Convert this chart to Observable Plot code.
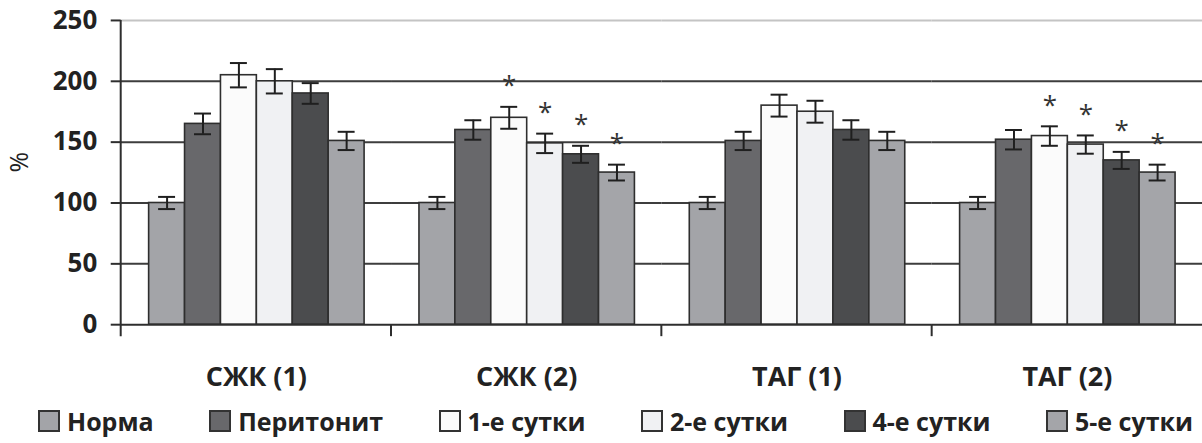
<!DOCTYPE html>
<html><head><meta charset="utf-8">
<script src="https://cdn.jsdelivr.net/npm/d3@7"></script>
<script src="https://cdn.jsdelivr.net/npm/@observablehq/plot@0.6"></script>
<style>
html,body{margin:0;padding:0;background:#fff;overflow:hidden;width:1202px;height:443px}
#chart svg{display:block}
.legend{display:flex;justify-content:space-between;align-items:center;box-sizing:border-box;width:1202px;height:48px;padding:6px 9px 0 38px;font-family:"Open Sans";font-weight:700;font-size:25px;color:#222}
.item{display:flex;align-items:center;gap:7px}
.sw{width:18px;height:18px;border:2px solid #333;box-sizing:content-box}
</style></head><body>
<div id="chart"></div><div class="legend" id="legend"></div>
<script>
const groups = ["СЖК (1)", "СЖК (2)", "ТАГ (1)", "ТАГ (2)"];
const series = ["Норма", "Перитонит", "1-е сутки", "2-е сутки", "4-е сутки", "5-е сутки"];
const colors = ["#a3a4a8", "#68686b", "#fbfbfb", "#f0f1f3", "#4b4c4e", "#a4a5a9"];
const sjk1 = [100, 165, 205, 200, 190, 151];
const sjk2 = [100, 160, 170, 149, 140, 125];
const tag1 = [100, 151, 180, 175, 160, 151];
const tag2 = [100, 152, 155, 148, 135, 125];
const errSjk1 = [5, 8.5, 10, 10, 8.5, 7.5];
const errSjk2 = [5, 8, 9, 8, 7, 6.5];
const errTag1 = [5, 7.5, 9, 9, 8, 7.5];
const errTag2 = [5, 8, 8, 7.5, 7, 6.5];
const starGroups = ["СЖК (2)", "ТАГ (2)"];
const starSeries = ["1-е сутки", "2-е сутки", "4-е сутки", "5-е сутки"];
const yTicks = [0, 50, 100, 150, 200, 250];
const yLabel = "%";

const valueLists = [sjk1, sjk2, tag1, tag2];
const errLists = [errSjk1, errSjk2, errTag1, errTag2];
const rows = groups.flatMap((g, gi) => series.map((s, si) => ({
  group: g, series: s, value: valueLists[gi][si], err: errLists[gi][si]
})));
const starred = rows.filter(d => starGroups.includes(d.group) && starSeries.includes(d.series));

const dark = "#2e2e2e";
let facetCall = 0;
function edgeTicks(index, scales, values, dimensions) {
  const first = (facetCall++ % groups.length) === 0;
  const r = scales.x.range();
  const left = Math.min(r[0], r[1]);
  const y0 = scales.y(0);
  const g = d3.create("svg:g");
  g.append("line").attr("x1", left).attr("x2", left)
    .attr("y1", first ? scales.y(250) : y0).attr("y2", y0 + 12)
    .attr("stroke", dark).attr("stroke-width", 2);
  return g.node();
}

const chart = Plot.plot({
  width: 1205,
  height: 395,
  marginLeft: 120,
  marginRight: 0,
  marginTop: 20,
  marginBottom: 70,
  style: {fontFamily: "Open Sans", color: "#222", background: "transparent"},
  fx: {domain: groups, padding: 0},
  x: {domain: series, paddingInner: 0, paddingOuter: 0.745, axis: null},
  y: {domain: [0, 250]},
  color: {domain: series, range: colors},
  marks: [
    Plot.ruleY(yTicks.filter(t => t > 0 && t < 250), {stroke: "#3d3d3d", strokeWidth: 2}),
    Plot.ruleY([250], {stroke: "#c4c4c4", strokeWidth: 2}),
    Plot.barY(rows, {fx: "group", x: "series", y: "value", fill: "series", stroke: dark, strokeWidth: 1.6}),
    Plot.ruleX(rows, {fx: "group", x: "series", y1: d => d.value - d.err, y2: d => d.value + d.err, stroke: "#1f1f1f", strokeWidth: 2}),
    Plot.tickY(rows, {fx: "group", x: "series", y: d => d.value + d.err, insetLeft: 9.5, insetRight: 9.5, stroke: "#1f1f1f", strokeWidth: 2}),
    Plot.tickY(rows, {fx: "group", x: "series", y: d => d.value - d.err, insetLeft: 9.5, insetRight: 9.5, stroke: "#1f1f1f", strokeWidth: 2}),
    Plot.text(starred, {fx: "group", x: "series", y: d => d.value + d.err, text: d => "*", dy: -21, fontSize: 26, fill: "#333"}),
    Plot.ruleY([0], {stroke: dark, strokeWidth: 2}),
    edgeTicks,
    Plot.axisY({ticks: yTicks, tickSize: 10, tickPadding: 14, fontSize: 26, fontWeight: "bold", label: null, stroke: dark, strokeWidth: 2}),
    Plot.text([yLabel], {fx: () => groups[0], text: d => d, frameAnchor: "left", dx: -101, rotate: -90, fontSize: 25, fill: "#222"}),
    Plot.axisFx({anchor: "bottom", tickSize: 0, tickPadding: 42, fontSize: 27, fontWeight: "bold", label: null})
  ]
});
document.getElementById("chart").appendChild(chart);

const legend = document.getElementById("legend");
series.forEach((s, i) => {
  const item = document.createElement("div");
  item.className = "item";
  const sw = document.createElement("span");
  sw.className = "sw";
  sw.style.background = colors[i];
  const t = document.createElement("span");
  t.textContent = s;
  item.appendChild(sw); item.appendChild(t);
  legend.appendChild(item);
});
</script>
</body></html>
